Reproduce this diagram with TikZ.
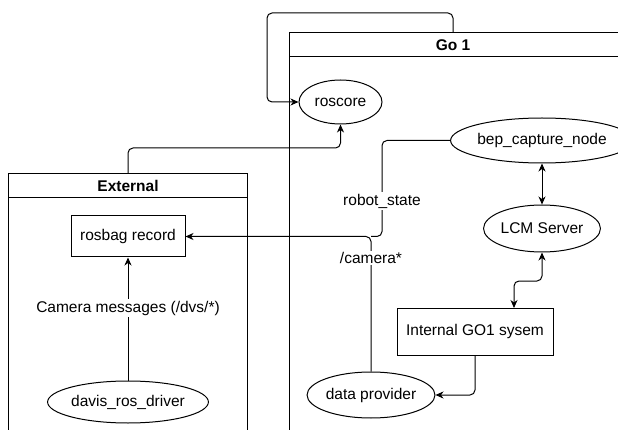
\documentclass[tikz,border=0pt]{standalone}
\usepackage{fontspec}
\setmainfont{Liberation Sans}
\usetikzlibrary{shapes.geometric,arrows.meta,calc}
\begin{document}
\begin{tikzpicture}[x=1pt,y=-1pt,
  every node/.style={font=\fontsize{15.5}{18}\selectfont},
  ell/.style={draw,ellipse,line width=1pt,inner sep=0pt},
  box/.style={draw,rectangle,line width=1pt,inner sep=0pt},
  cont/.style={draw,line width=1pt},
  conn/.style={line width=1pt,rounded corners=5pt},
  tip/.style={-{Stealth[length=8pt,width=7pt,inset=2.5pt]}},
  tips/.style={{Stealth[length=8pt,width=7pt,inset=2.5pt]}-{Stealth[length=8pt,width=7pt,inset=2.5pt]}},
  lbl/.style={fill=white,inner sep=1.5pt}]
\useasboundingbox[fill=white] (0,0) rectangle (618,430);
% containers
\draw[cont] (289,440) -- (289,33) -- (630,33);
\draw[cont] (289,57) -- (630,57);
\node[font=\fontsize{15.5}{18}\selectfont\bfseries] (go1title) at (453,45) {Go 1};
\draw[cont] (8,440) -- (8,174) -- (247,174) -- (247,440);
\draw[cont] (8,198) -- (247,198);
\node[font=\fontsize{15.5}{18}\selectfont\bfseries] (exttitle) at (128,186) {External};
\coordinate (g1top) at (453,33);
\coordinate (exttop) at (128,174);
% nodes
\node[ell,minimum width=83pt,minimum height=44pt] (roscore) at (340.5,102) {roscore};
\node[ell,minimum width=150pt,minimum height=45pt] (bep) at (542,140.5) {bep\_capture\_node};
\node[ell,minimum width=114pt,minimum height=47pt] (lcm) at (542,228.5) {LCM Server};
\node[box,minimum width=156pt,minimum height=47pt] (internal) at (475,331.5) {Internal GO1 sysem};
\node[ell,minimum width=124pt,minimum height=46pt] (dp) at (371,395) {data provider};
\node[box,minimum width=114pt,minimum height=41pt] (rosbag) at (128,236.5) {rosbag record};
\node[ell,minimum width=146pt,minimum height=42pt] (davis) at (128,402) {davis\_ros\_driver};
% connectors
\draw[conn,tip] (g1top) -- (453,13) -- (267,13) -- (267,102) -- (roscore.west);
\draw[conn,tip] (exttop) -- (128,148) -- (340.5,148) -- (roscore.south);
\coordinate (j1) at (382,236.5);
\coordinate (j2) at (371,236.5);
\draw[conn] (bep.west) -| (j1) -- (j2);
\draw[conn,tip] (dp.north) -- (j2) -- (rosbag.east);
\node[lbl] (rslbl) at (382,201) {robot\_state};
\node[lbl] (camlbl) at (371,258) {/camera*};
\draw[conn,tip] (davis.north) -- (rosbag.south);
\node[lbl] (dvslbl) at (128,308) {Camera messages (/dvs/*)};
\draw[conn,tips] (bep.south) -- (lcm.north);
\draw[conn,tips] (lcm.south) -- (542,281) -- (514,281) -- (514,308);
\draw[conn,tip] (internal.south) |- (dp.east);
\end{tikzpicture}
\end{document}
